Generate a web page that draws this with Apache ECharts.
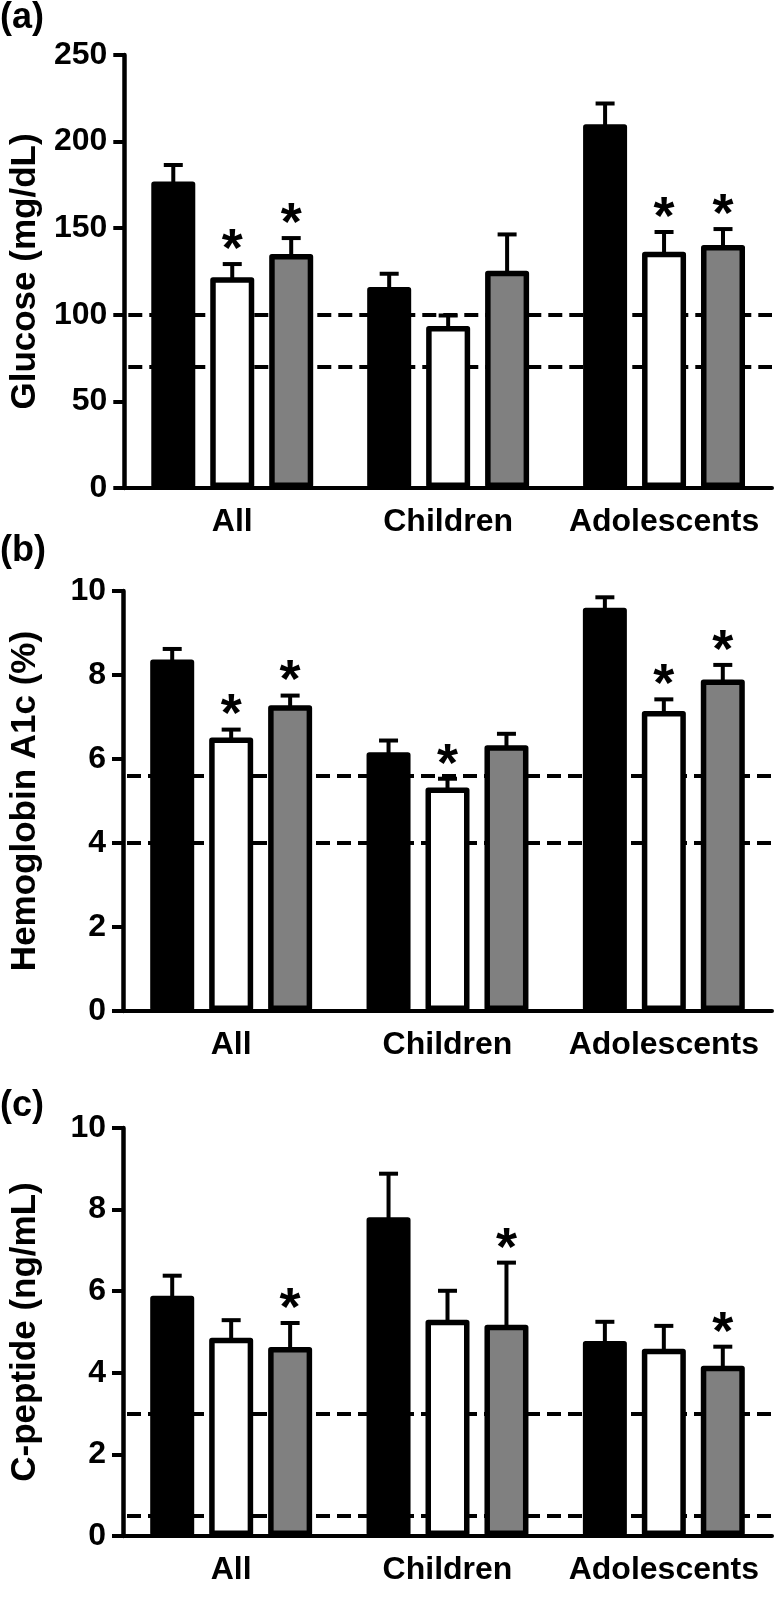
<!DOCTYPE html>
<html>
<head>
<meta charset="UTF-8">
<title></title>
<script src="https://cdn.jsdelivr.net/npm/echarts@6/dist/echarts.min.js"></script>
<style>
  html, body { margin: 0; padding: 0; background: #fff; }
</style>
</head>
<body>
<div id="main" style="width:780px;height:1618px"></div>
<script>
// categories
var categories = ['All', 'Children', 'Adolescents'];

// (a) glucose, mg/dL  (mean and SEM per category)
var glucoseBlack = [177, 116, 210];
var glucoseBlackSem = [9.5, 7.7, 12];
var glucoseWhite = [121.7, 93.5, 136.4];
var glucoseWhiteSem = [7.6, 6.1, 11.4];
var glucoseGray = [135.1, 125.5, 140.3];
var glucoseGraySem = [9.2, 20.9, 9.2];
var glucoseSigWhite = [1, 0, 1];
var glucoseSigGray = [1, 0, 1];
var glucoseRef = [70, 100];

// (b) hemoglobin A1c, %
var a1cBlack = [8.37, 6.16, 9.6];
var a1cBlackSem = [0.25, 0.28, 0.25];
var a1cWhite = [6.51, 5.32, 7.14];
var a1cWhiteSem = [0.19, 0.21, 0.28];
var a1cGray = [7.28, 6.33, 7.89];
var a1cGraySem = [0.23, 0.27, 0.35];
var a1cSigWhite = [1, 1, 1];
var a1cSigGray = [1, 0, 1];
var a1cRef = [4, 5.6];

// (c) C-peptide, ng/mL
var cpepBlack = [5.89, 7.81, 4.78];
var cpepBlackSem = [0.49, 1.07, 0.47];
var cpepWhite = [4.86, 5.3, 4.59];
var cpepWhiteSem = [0.43, 0.71, 0.56];
var cpepGray = [4.63, 5.18, 4.17];
var cpepGraySem = [0.59, 1.52, 0.47];
var cpepSigGray = [1, 1, 1];
var cpepRef = [0.5, 3];

var FONT = '"Liberation Sans", Arial, sans-serif';
var BAR_W = 44;
var BAR_GAP = 0.34;          // fraction of bar width
var STEP = BAR_W * (1 + BAR_GAP);
var noSig = [0, 0, 0];

var myChart = echarts.init(document.getElementById('main'));

// error bar + star, drawn over the bar of group k
function errorItem(k) {
    return function (params, api) {
        var i = api.value(0), m = api.value(1), s = api.value(2), sig = api.value(3);
        var base = api.coord([i, m]);
        var top = api.coord([i, m + s]);
        var x = base[0] + (k - 1) * STEP;
        var kids = [
            { type: 'line', shape: { x1: x, y1: base[1] + 3, x2: x, y2: top[1] }, style: { stroke: '#000', lineWidth: 4 } },
            { type: 'line', shape: { x1: x - 9.5, y1: top[1], x2: x + 9.5, y2: top[1] }, style: { stroke: '#000', lineWidth: 4 } }
        ];
        if (sig) {
            kids.push({
                type: 'text', x: x, y: top[1] - 13,
                style: { text: '*', fill: '#000', fontSize: 54, fontWeight: 'bold', fontFamily: FONT, align: 'center', verticalAlign: 'middle' }
            });
        }
        return { type: 'group', children: kids };
    };
}

function zip(mean, sem, sig) {
    return mean.map(function (v, i) { return [i, v, sem[i], sig[i]]; });
}

function panelSeries(g, black, blackSem, white, whiteSem, gray, graySem, sigWhite, sigGray, ref) {
    var fills = ['#000', '#fff', '#808080'];
    var means = [black, white, gray];
    var sems = [blackSem, whiteSem, graySem];
    var sigs = [noSig, sigWhite, sigGray];
    var out = [];
    for (var k = 0; k < 3; k++) {
        var bar = {
            type: 'bar', xAxisIndex: g, yAxisIndex: g, z: 10,
            barWidth: BAR_W, barGap: (BAR_GAP * 100) + '%',
            data: means[k],
            itemStyle: { color: fills[k], borderColor: '#000', borderWidth: 5.5, borderJoin: 'round' },
            silent: true
        };
        if (k === 0) {
            // dashed reference range, kept behind the bars
            bar.markLine = {
                silent: true, symbol: 'none', z: 5,
                label: { show: false },
                lineStyle: { color: '#000', width: 4, type: [14, 7], dashOffset: 17 },
                data: ref.map(function (v) { return { yAxis: v }; })
            };
        }
        out.push(bar);
        out.push({
            type: 'custom', xAxisIndex: g, yAxisIndex: g, z: 12, silent: true,
            renderItem: errorItem(k),
            data: zip(means[k], sems[k], sigs[k])
        });
    }
    return out;
}

var grids = [
    { left: 123, right: 8, top: 55, bottom: 1130 },
    { left: 123, right: 8, top: 591, bottom: 607 },
    { left: 123, right: 8, top: 1128, bottom: 82 }
];
var yNames = ['Glucose (mg/dL)', 'Hemoglobin A1c (%)', 'C-peptide (ng/mL)'];
var yMax = [250, 10, 10];
var yStep = [50, 2, 2];

var xAxes = [], yAxes = [];
for (var g = 0; g < 3; g++) {
    xAxes.push({
        type: 'category', gridIndex: g, data: categories,
        axisLine: { lineStyle: { color: '#000', width: 4 } },
        axisTick: { alignWithLabel: true, length: 12, lineStyle: { color: '#000', width: 4 } },
        axisLabel: { interval: 0, color: '#000', fontSize: 32, fontWeight: 'bold', fontFamily: FONT, margin: 18 }
    });
    yAxes.push({
        type: 'value', gridIndex: g, min: 0, max: yMax[g], interval: yStep[g],
        name: yNames[g], nameLocation: 'middle', nameGap: 80,
        nameTextStyle: { color: '#000', fontSize: 35, fontWeight: 'bold', fontFamily: FONT },
        splitLine: { show: false },
        axisLine: { show: true, lineStyle: { color: '#000', width: 4.5 } },
        axisTick: { show: true, length: 11, lineStyle: { color: '#000', width: 4 } },
        axisLabel: { color: '#000', fontSize: 32, fontWeight: 'bold', fontFamily: FONT, margin: 17 }
    });
}

var series = []
    .concat(panelSeries(0, glucoseBlack, glucoseBlackSem, glucoseWhite, glucoseWhiteSem, glucoseGray, glucoseGraySem, glucoseSigWhite, glucoseSigGray, glucoseRef))
    .concat(panelSeries(1, a1cBlack, a1cBlackSem, a1cWhite, a1cWhiteSem, a1cGray, a1cGraySem, a1cSigWhite, a1cSigGray, a1cRef))
    .concat(panelSeries(2, cpepBlack, cpepBlackSem, cpepWhite, cpepWhiteSem, cpepGray, cpepGraySem, noSig, cpepSigGray, cpepRef));

var letterStyle = { color: '#000', fontSize: 36, fontWeight: 'bold', fontFamily: FONT };
var option = {
    backgroundColor: '#fff',
    animation: false,
    title: [
        { text: '(a)', left: 0, top: 0, padding: 0, textStyle: letterStyle },
        { text: '(b)', left: 0, top: 533, padding: 0, textStyle: letterStyle },
        { text: '(c)', left: 0, top: 1088, padding: 0, textStyle: letterStyle }
    ],
    grid: grids,
    xAxis: xAxes,
    yAxis: yAxes,
    series: series
};

myChart.setOption(option);
</script>
</body>
</html>
